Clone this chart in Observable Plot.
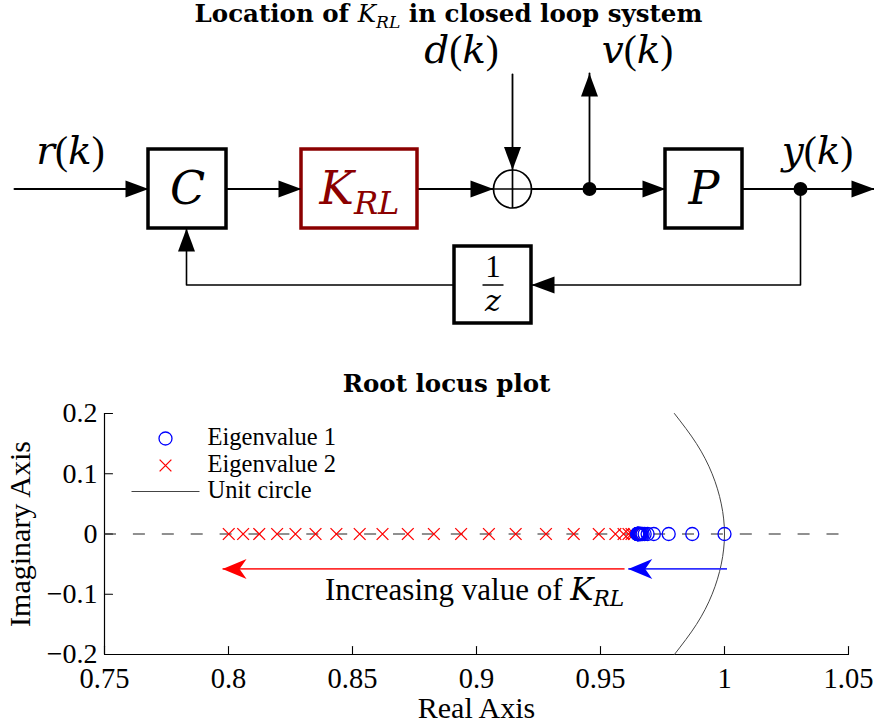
<!DOCTYPE html>
<html><head><meta charset="utf-8">
<script src="https://cdn.jsdelivr.net/npm/d3@7"></script>
<script src="https://cdn.jsdelivr.net/npm/@observablehq/plot@0.6"></script>
<style>
html,body{margin:0;padding:0;background:#fff;}
#wrap{position:relative;width:874px;height:724px;overflow:hidden;background:#fff;}
#diagram{position:absolute;left:0;top:0;}
#locus{position:absolute;left:0;top:370px;}
</style></head><body><div id="wrap"><div id="diagram"></div><div id="locus"></div></div>
<script>
// ================= DATA =================
// Root locus: eigenvalues (real and imaginary parts) for increasing K_RL
const eigenvalue1Re = [1.000, 0.987, 0.9775, 0.9715, 0.9690, 0.9678, 0.9670, 0.9665, 0.9662, 0.9660, 0.9658, 0.9656, 0.9655, 0.9654, 0.9653, 0.9652, 0.9651, 0.9650, 0.9650, 0.9649, 0.9649, 0.9648];
const eigenvalue1Im = [0, 0, 0, 0, 0, 0, 0, 0, 0, 0, 0, 0, 0, 0, 0, 0, 0, 0, 0, 0, 0, 0];
const eigenvalue2Re = [0.9635, 0.9625, 0.9613, 0.9593, 0.9560, 0.9493, 0.9392, 0.9280, 0.9158, 0.9050, 0.8938, 0.8828, 0.8723, 0.8621, 0.8529, 0.8435, 0.8351, 0.8270, 0.8196, 0.8124, 0.8059, 0.8001];
const eigenvalue2Im = [0, 0, 0, 0, 0, 0, 0, 0, 0, 0, 0, 0, 0, 0, 0, 0, 0, 0, 0, 0, 0, 0];
// Unit circle (part visible in the window)
const unitCircleIm = [-0.2, -0.15, -0.1, -0.05, 0, 0.05, 0.1, 0.15, 0.2];
const unitCircleRe = [0.9798, 0.9887, 0.9950, 0.9987, 1.0, 0.9987, 0.9950, 0.9887, 0.9798];
// Axis ticks
const xTicks = [0.75, 0.8, 0.85, 0.9, 0.95, 1, 1.05];
const xTickLabels = ["0.75", "0.8", "0.85", "0.9", "0.95", "1", "1.05"];
const yTicks = [-0.2, -0.1, 0, 0.1, 0.2];
const yTickLabels = ["\u22120.2", "\u22120.1", "0", "0.1", "0.2"];
const xDomain = [0.75, 1.05];
const yDomain = [-0.2, 0.2];
// Direction arrows (Eigenvalue 2 = red, Eigenvalue 1 = blue)
const arrowSeries = ["Eigenvalue 2", "Eigenvalue 1"];
const arrowFromRe = [0.9597, 1.001];
const arrowToRe = [0.7976, 0.9612];
const arrowIm = [-0.058, -0.058];
const annotationText = ["Increasing value of $K_{RL}$"];
const annotationRe = [0.8992];
const annotationIm = [-0.0925];
const legendLabels = ["Eigenvalue 1", "Eigenvalue 2", "Unit circle"];

// Block diagram (diagram units)
const blockNames = ["C", "K_{RL}", "P", "1/z"];
const blockX1 = [148, 301, 665, 454];
const blockX2 = [226, 417, 742, 531];
const blockY1 = [149, 149, 149, 246];
const blockY2 = [228, 228, 228, 323];
const wireIds = ["r", "CK", "Ksum", "sumP", "out", "d", "v", "fb1", "fb2"];
const wirePaths = [
  [[14, 188.5], [148, 188.5]],
  [[226, 188.5], [301, 188.5]],
  [[417, 188.5], [493, 188.5]],
  [[531, 188.5], [665, 188.5]],
  [[742, 188.5], [874, 188.5]],
  [[512, 74], [512, 169.5]],
  [[589, 188.5], [589, 73]],
  [[800, 188.5], [800, 284.5], [531, 284.5]],
  [[454, 284.5], [186, 284.5], [186, 228]]
];
const sumNode = [{x: 512, y: 188.5, r: 19}];
const junctionX = [589, 800];
const junctionY = [188.5, 188.5];
const signalLabels = ["$r(k)$", "$d(k)$", "$v(k)$", "$y(k)$"];
const signalX = [70, 461, 637, 817];
const signalY = [151, 50, 50, 151];
const diagramTitle = ["Location of $K_{RL}$ in closed loop system"];
const locusTitle = ["Root locus plot"];

// ================= STYLE =================
const SERIF = "'Liberation Serif','Times New Roman',serif";
const MATH = "'DejaVu Serif',serif";
const BOLD = "'DejaVu Serif',serif";
const seriesColor = {"Eigenvalue 1": "#0000ff", "Eigenvalue 2": "#ff0000"};
const arrowLineColor = {"Eigenvalue 1": "#3030ff", "Eigenvalue 2": "#ff3030"};
const blockColor = {"K_{RL}": "#8b0000"};

// custom symbols
const triHead = {draw(ctx) { ctx.moveTo(0, 0); ctx.lineTo(-23, -8.5); ctx.lineTo(-23, 8.5); ctx.closePath(); }};
const vbackHead = {draw(ctx) { ctx.moveTo(0, 0); ctx.lineTo(-24, -10); ctx.lineTo(-17, 0); ctx.lineTo(-24, 10); ctx.closePath(); }};
const hLine = {draw(ctx) { ctx.moveTo(-34, 0); ctx.lineTo(34, 0); }};
const tickShape = {draw(ctx, l) { ctx.moveTo(0, 0); ctx.lineTo(0, -l); }};

// ================= DIAGRAM =================
const blocks = blockNames.map((name, i) => ({name, x1: blockX1[i], x2: blockX2[i], y1: blockY1[i], y2: blockY2[i]}));
const wirePts = wirePaths.flatMap((p, i) => p.map(([x, y]) => ({id: wireIds[i], fb: wireIds[i].startsWith("fb"), x, y})));
const arrowTips = wirePaths.map(p => {
  const a = p[p.length - 2], b = p[p.length - 1];
  return {x: b[0], y: b[1], angle: Math.atan2(b[1] - a[1], b[0] - a[0]) * 180 / Math.PI};
});
const junctions = junctionX.map((x, i) => ({x, y: junctionY[i]}));
const signals = signalLabels.map((t, i) => ({t, x: signalX[i], y: signalY[i]}));
const fracBlock = blocks.find(b => b.name === "1/z");
const fcx = (fracBlock.x1 + fracBlock.x2) / 2, fcy = (fracBlock.y1 + fracBlock.y2) / 2;

const diagram = Plot.plot({
  width: 874, height: 360, margin: 0,
  x: {domain: [0, 874], range: [0, 874], axis: null},
  y: {domain: [0, 360], range: [0, 360], axis: null},
  style: {fontFamily: SERIF, background: "white", overflow: "visible"},
  marks: [
    Plot.line(wirePts.filter(d => !d.fb && d.id !== "d" && d.id !== "v"), {x: "x", y: "y", z: "id", stroke: "black", strokeWidth: 2}),
    Plot.line(wirePts.filter(d => d.id === "d" || d.id === "v"), {x: "x", y: "y", z: "id", stroke: "black", strokeWidth: 1.8}),
    Plot.line(wirePts.filter(d => d.fb), {x: "x", y: "y", z: "id", stroke: "black", strokeWidth: 1.6}),
    Plot.rect(blocks, {x1: "x1", x2: "x2", y1: "y1", y2: "y2", fill: "white", stroke: d => blockColor[d.name] || "black", strokeWidth: 3.5}),
    Plot.dot(sumNode, {x: "x", y: "y", r: 19, fill: "white", stroke: "black", strokeWidth: 1.7}),
    Plot.link(sumNode, {x1: d => d.x - d.r, x2: d => d.x + d.r, y1: "y", y2: "y", stroke: "black", strokeWidth: 1.7}),
    Plot.link(sumNode, {x1: "x", x2: "x", y1: d => d.y - d.r, y2: d => d.y + d.r, stroke: "black", strokeWidth: 1.7}),
    Plot.dot(arrowTips, {x: "x", y: "y", rotate: "angle", symbol: triHead, fill: "black", stroke: "none"}),
    Plot.dot(junctions, {x: "x", y: "y", r: 7, fill: "black"}),
    Plot.text(blocks.filter(b => b.name !== "1/z"), {x: d => (d.x1 + d.x2) / 2, y: d => (d.y1 + d.y2) / 2, text: d => "$" + d.name + "$", fill: d => blockColor[d.name] || "black", fontSize: 46}),
    Plot.text(["$1$"], {x: () => fcx, y: () => fcy - 18, fontSize: 31}),
    Plot.link([fracBlock], {x1: () => fcx - 10.5, x2: () => fcx + 10.5, y1: () => fcy, y2: () => fcy, stroke: "black", strokeWidth: 1.5}),
    Plot.text(["$z$"], {x: () => fcx, y: () => fcy + 16, fontSize: 30}),
    Plot.text(signals, {x: "x", y: "y", text: "t", fontSize: 39}),
    Plot.text(diagramTitle, {x: () => 448, y: () => 14, fontSize: 24.5, fontWeight: "bold", fontFamily: BOLD})
  ]
});
document.getElementById("diagram").appendChild(diagram);

// ================= ROOT LOCUS =================
const e1 = eigenvalue1Re.map((re, i) => ({re, im: eigenvalue1Im[i]}));
const e2 = eigenvalue2Re.map((re, i) => ({re, im: eigenvalue2Im[i]}));
const circ = unitCircleRe.map((re, i) => ({re, im: unitCircleIm[i]}));
const arrows = arrowSeries.map((s, i) => ({s, x1: arrowFromRe[i], x2: arrowToRe[i], y: arrowIm[i], angle: arrowToRe[i] < arrowFromRe[i] ? 180 : 0}));
const annot = annotationText.map((t, i) => ({t, x: annotationRe[i], y: annotationIm[i]}));
const xFmt = new Map(xTicks.map((t, i) => [t, xTickLabels[i]]));
const yFmt = new Map(yTicks.map((t, i) => [t, yTickLabels[i]]));

const legendMarks = [
  Plot.dot([0], {frameAnchor: "top-left", dx: 61, dy: 25, r: 6.5, symbol: "circle", stroke: seriesColor["Eigenvalue 1"], fill: "none", strokeWidth: 1.3}),
  Plot.dot([0], {frameAnchor: "top-left", dx: 61, dy: 52, r: 5.4, symbol: "times", stroke: seriesColor["Eigenvalue 2"], fill: "none", strokeWidth: 1.3}),
  Plot.dot([0], {frameAnchor: "top-left", dx: 61, dy: 78, symbol: hLine, stroke: "#444", fill: "none", strokeWidth: 1}),
  ...legendLabels.map((lab, i) => Plot.text([lab], {frameAnchor: "top-left", dx: 103, dy: [24, 51, 77][i], textAnchor: "start", lineAnchor: "middle", fontSize: 24.5}))
];

const locus = Plot.plot({
  width: 874, height: 354,
  marginLeft: 104, marginRight: 26, marginTop: 43, marginBottom: 70,
  x: {domain: xDomain},
  y: {domain: yDomain},
  style: {fontFamily: SERIF, background: "white", overflow: "visible"},
  marks: [
    Plot.axisX(xTicks, {tickSize: 0, tickPadding: 13, tickFormat: d => xFmt.get(d), fontSize: 28.5, label: null}),
    Plot.axisY(yTicks, {tickSize: 0, tickPadding: 7, tickFormat: d => yFmt.get(d), fontSize: 28, label: null}),
    Plot.ruleY([yDomain[0]], {stroke: "black", strokeWidth: 1.2}),
    Plot.ruleX([xDomain[0]], {stroke: "black", strokeWidth: 1.2}),
    Plot.vector(xTicks, {x: d => d, y: () => yDomain[0], length: 8, rotate: 0, anchor: "start", shape: tickShape, stroke: "black", strokeWidth: 1.1}),
    Plot.vector(yTicks, {x: () => xDomain[0], y: d => d, length: 8, rotate: 90, anchor: "start", shape: tickShape, stroke: "black", strokeWidth: 1.1}),
    Plot.ruleY([0], {stroke: "#222", strokeWidth: 1.2, strokeDasharray: "12,16.9"}),
    Plot.line(circ, {x: "re", y: "im", curve: "natural", stroke: "#444", strokeWidth: 1}),
    Plot.dot(e2, {x: "re", y: "im", r: 5.4, symbol: "times", stroke: seriesColor["Eigenvalue 2"], strokeWidth: 1.3}),
    Plot.dot(e1, {x: "re", y: "im", r: 6.5, symbol: "circle", stroke: seriesColor["Eigenvalue 1"], fill: "none", strokeWidth: 1.3}),
    Plot.link(arrows, {x1: "x1", x2: "x2", y1: "y", y2: "y", stroke: d => arrowLineColor[d.s], strokeWidth: 1.7}),
    Plot.dot(arrows, {x: "x2", y: "y", rotate: "angle", symbol: vbackHead, fill: d => seriesColor[d.s], stroke: "none"}),
    Plot.text(annot, {x: "x", y: "y", text: "t", fontSize: 31}),
    ...legendMarks,
    Plot.text(locusTitle, {frameAnchor: "top", dx: -30, dy: -29, lineAnchor: "middle", fontSize: 24.5, fontWeight: "bold", fontFamily: BOLD}),
    Plot.text(["Real Axis"], {frameAnchor: "bottom", dx: 0, dy: 54, lineAnchor: "middle", fontSize: 30}),
    Plot.text(["Imaginary Axis"], {frameAnchor: "left", dx: -84, rotate: -90, textAnchor: "middle", lineAnchor: "middle", fontSize: 30})
  ]
});
document.getElementById("locus").appendChild(locus);

// ================= rich text ($math$ and _{sub}) =================
function richify(root) {
  const NS = "http://www.w3.org/2000/svg";
  root.querySelectorAll("text").forEach(el => {
    const s = el.textContent;
    if (!s.includes("$")) return;
    const fs = parseFloat(getComputedStyle(el).fontSize);
    while (el.firstChild) el.removeChild(el.firstChild);
    let shift = 0;
    s.split("$").forEach((part, k) => {
      const math = k % 2 === 1;
      const re = /_\{([^}]*)\}/g; let last = 0, m; const segs = [];
      while ((m = re.exec(part))) { segs.push([part.slice(last, m.index), false]); segs.push([m[1], true]); last = re.lastIndex; }
      segs.push([part.slice(last), false]);
      for (const [txt, sub] of segs) {
        if (!txt) continue;
        const runs = math ? txt.match(/[A-Za-z]+|[^A-Za-z]+/g) : [txt];
        for (const r of runs) {
          const t = document.createElementNS(NS, "tspan");
          t.textContent = r;
          if (math) {
            t.setAttribute("font-weight", "normal");
            if (/[A-Za-z]/.test(r)) { t.setAttribute("font-style", "italic"); t.setAttribute("font-family", MATH); }
            else t.setAttribute("font-family", SERIF);
          }
          if (sub) t.setAttribute("font-size", fs * 0.7);
          const target = sub ? fs * 0.22 : 0;
          if (target !== shift) { t.setAttribute("dy", target - shift); shift = target; }
          el.appendChild(t);
        }
      }
    });
  });
}
richify(document.getElementById("wrap"));
</script></body></html>
